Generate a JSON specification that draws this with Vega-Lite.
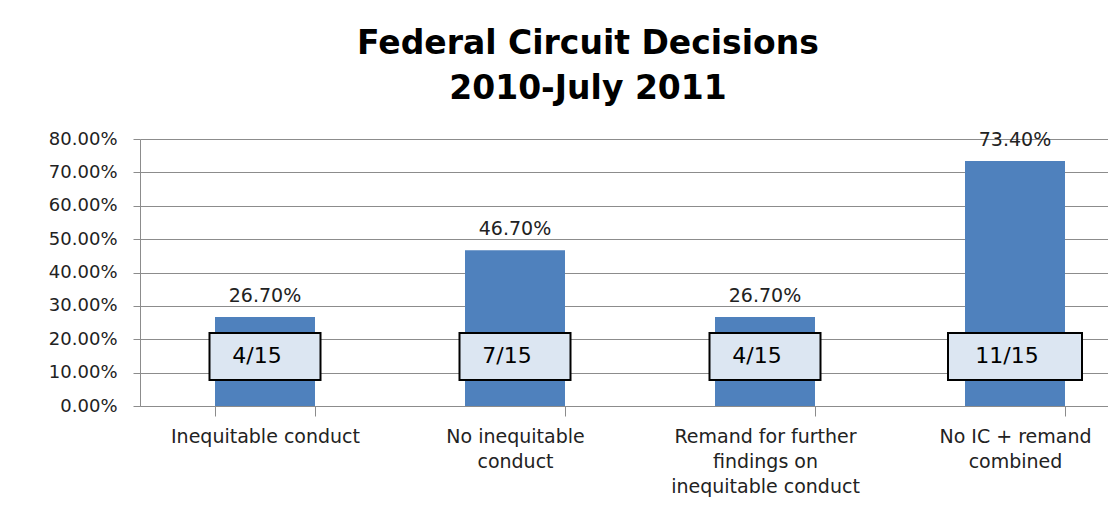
{
  "$schema": "https://vega.github.io/schema/vega-lite/v6.json",
  "autosize": {"type": "none"},
  "width": 968,
  "height": 267,
  "padding": {"left": 140, "top": 139, "right": 0, "bottom": 104},
  "background": "white",
  "title": {
    "text": ["Federal Circuit Decisions", "2010-July 2011"],
    "font": "DejaVu Sans",
    "fontWeight": "bold",
    "fontSize": 33,
    "lineHeight": 45,
    "color": "#000000",
    "anchor": "middle",
    "frame": "group",
    "dx": -36,
    "offset": 24
  },
  "data": {
    "values": [
      {"category": "Inequitable conduct", "share": 0.267, "fraction": "4/15"},
      {"category": "No inequitable conduct", "share": 0.467, "fraction": "7/15"},
      {"category": "Remand for further findings on inequitable conduct", "share": 0.267, "fraction": "4/15"},
      {"category": "No IC + remand combined", "share": 0.734, "fraction": "11/15"}
    ]
  },
  "encoding": {
    "x": {
      "field": "category",
      "type": "nominal",
      "sort": null,
      "title": null,
      "scale": {"range": [0, 1000], "paddingInner": 0.6, "paddingOuter": 0.3},
      "axis": {
        "labelExpr": "datum.value == 'No inequitable conduct' ? ['No inequitable','conduct'] : datum.value == 'Remand for further findings on inequitable conduct' ? ['Remand for further','findings on','inequitable conduct'] : datum.value == 'No IC + remand combined' ? ['No IC + remand','combined'] : datum.value"
      }
    }
  },
  "layer": [
    {
      "mark": {"type": "bar", "color": "#4F81BD"},
      "encoding": {
        "y": {
          "field": "share",
          "type": "quantitative",
          "title": null,
          "scale": {"domain": [0, 0.8], "nice": false},
          "axis": {"values": [0, 0.1, 0.2, 0.3, 0.4, 0.5, 0.6, 0.7, 0.8]}
        }
      }
    },
    {
      "mark": {"type": "text", "baseline": "bottom", "dy": -11, "font": "DejaVu Sans", "fontSize": 19, "color": "#222222"},
      "encoding": {
        "y": {"field": "share", "type": "quantitative", "title": null, "axis": {"values": [0, 0.1, 0.2, 0.3, 0.4, 0.5, 0.6, 0.7, 0.8]}},
        "text": {"field": "share", "type": "quantitative", "format": ".2%"}
      }
    },
    {
      "mark": {"type": "bar", "fill": "#DCE6F2", "stroke": "#000000", "strokeWidth": 2},
      "encoding": {
        "y": {"datum": 0.078, "type": "quantitative", "title": null, "axis": {"values": [0, 0.1, 0.2, 0.3, 0.4, 0.5, 0.6, 0.7, 0.8]}},
        "y2": {"datum": 0.219},
        "size": {"condition": {"test": "datum.fraction == '11/15'", "value": 134}, "value": 111}
      }
    },
    {
      "mark": {"type": "text", "baseline": "middle", "align": "center", "dx": -8, "font": "DejaVu Sans", "fontSize": 22, "color": "#000000"},
      "encoding": {
        "y": {"datum": 0.15, "type": "quantitative", "title": null, "axis": {"values": [0, 0.1, 0.2, 0.3, 0.4, 0.5, 0.6, 0.7, 0.8]}},
        "text": {"field": "fraction"}
      }
    }
  ],
  "config": {
    "view": {"stroke": null},
    "axisY": {
      "format": ".2%",
      "grid": true,
      "gridColor": "#8c8c8c",
      "domainColor": "#8c8c8c",
      "tickColor": "#8c8c8c",
      "tickSize": 7,
      "labelPadding": 16,
      "labelFont": "DejaVu Sans",
      "labelFontSize": 18,
      "labelColor": "#222222",
      "labelOverlap": false
    },
    "axisX": {
      "labelAngle": 0,
      "tickBand": "extent",
      "labelFont": "DejaVu Sans",
      "labelFontSize": 19,
      "labelColor": "#222222",
      "labelLimit": 0,
      "labelLineHeight": 25,
      "labelPadding": 11,
      "tickSize": 10,
      "tickColor": "#8c8c8c",
      "domainColor": "#8c8c8c"
    }
  }
}
